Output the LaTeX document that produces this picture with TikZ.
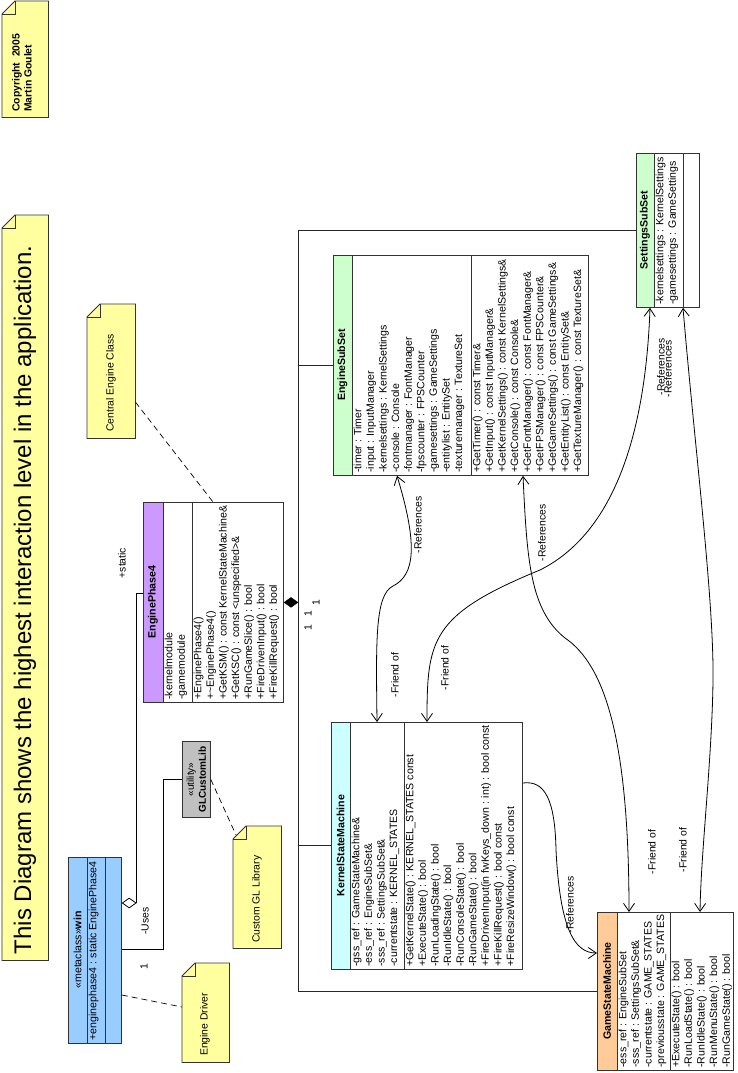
\documentclass[tikz,border=0pt]{standalone}
\usepackage{fontspec}
\setmainfont{Liberation Sans}
\usetikzlibrary{arrows.meta,calc,shapes.geometric}
\definecolor{noteY}{RGB}{255,255,160}
\definecolor{winB}{RGB}{153,204,255}
\definecolor{epP}{RGB}{204,153,255}
\definecolor{ssG}{RGB}{204,255,204}
\definecolor{ksC}{RGB}{204,255,255}
\definecolor{gsO}{RGB}{255,204,153}
\definecolor{glG}{RGB}{192,192,192}
\newcommand{\drawnote}[1]{%
  \filldraw[noteshape] ($(#1.north west)+(0,13)$) -- ($(#1.north west)+(13,0)$) -- (#1.north east) -- (#1.south east) -- (#1.south west) -- cycle;
  \draw[noteshape,fill=none] ($(#1.north west)+(0,13)$) -- ($(#1.north west)+(13,13)$) -- ($(#1.north west)+(13,0)$);}
\begin{document}
\begin{tikzpicture}[x=1pt,y=-1pt,
  >={Straight Barb[length=8pt,width=11pt]},
  cls/.style={draw=black!80, line width=0.8pt, inner sep=0pt, anchor=north west},
  hdr/.style 2 args={path picture={\fill[#1] (path picture bounding box.north west) rectangle ([xshift=#2]path picture bounding box.south west);}},
  sep/.style={draw=black!80, line width=0.8pt},
  txt/.style={rotate=90, anchor=north west, inner sep=0pt, align=left, font=\fontsize{10.6}{12.6}\selectfont},
  ttl/.style={rotate=90, inner sep=0pt, align=center, font=\bfseries\fontsize{10.6}{12.6}\selectfont},
  lbl/.style={rotate=90, inner sep=0pt, font=\fontsize{10.4}{12}\selectfont},
  notebox/.style={inner sep=0pt, anchor=north west},
  noteshape/.style={fill=noteY, draw=black!80, line width=0.8pt},
  conn/.style={line width=0.8pt, draw=black},
  bus/.style={line width=1.1pt, draw=black!85},
  dsh/.style={dash pattern=on 6pt off 4pt, line width=0.7pt}
]
\useasboundingbox (0,0) rectangle (738,1073);
\fill[white] (0,0) rectangle (738,1073);

% ---------- notes ----------
\node[notebox, minimum width=46pt, minimum height=116pt] (copy) at (2,1) {};
\drawnote{copy}
\node[txt, font=\bfseries\fontsize{10.4}{12}\selectfont] (copyt) at (12,112) {Copyright\ \ 2005\\Martin Goulet};

\node[notebox, minimum width=46pt, minimum height=745pt] (title) at (2,215) {};
\drawnote{title}
\node[lbl, font=\fontsize{24}{28}\selectfont] (titlet) at (25,600) {This Diagram shows the highest interaction level in the application.};

\node[notebox, minimum width=48pt, minimum height=134pt] (cen) at (87,304) {};
\drawnote{cen}
\node[lbl, anchor=west, font=\fontsize{10.4}{12}\selectfont] (cent) at (111,432) {Central Engine Class};

\node[notebox, minimum width=48pt, minimum height=122pt] (glnote) at (233,826) {};
\drawnote{glnote}
\node[lbl, anchor=west, font=\fontsize{10.4}{12}\selectfont] (glnotet) at (257,943) {Custom GL Library};

\node[notebox, minimum width=47pt, minimum height=99pt] (drv) at (182,963) {};
\drawnote{drv}
\node[lbl, anchor=west, font=\fontsize{10.4}{12}\selectfont] (drvt) at (205,1056) {Engine Driver};

% ---------- classes ----------
% win
\node[cls, fill=winB, minimum width=53pt, minimum height=186pt] (win) at (68,857) {};
\draw[sep] ($(win.north west)+(19,0)$) -- ($(win.south west)+(19,0)$);
\draw[sep] ($(win.north west)+(37,0)$) -- ($(win.south west)+(37,0)$);
\node[ttl, font=\fontsize{10.6}{12}\selectfont] (wint) at ($(win.north west)+(9.5,93)$) {«metaclass»\textbf{win}};
\node[txt] (wina) at ($(win.south west)+(20.5,-3)$) {+enginephase4 : static EnginePhase4};

% EnginePhase4
\node[cls, fill=white, hdr={epP}{20pt}, minimum width=140pt, minimum height=200pt] (ep4) at (143,502) {};
\draw[sep] ($(ep4.north west)+(20,0)$) -- ($(ep4.south west)+(20,0)$);
\draw[sep] ($(ep4.north west)+(49,0)$) -- ($(ep4.south west)+(49,0)$);
\node[ttl] (ep4t) at ($(ep4.north west)+(10,100)$) {EnginePhase4};
\node[txt] (ep4a) at ($(ep4.south west)+(21.5,-3)$) {-kernelmodule\\-gamemodule};
\node[txt] (ep4m) at ($(ep4.south west)+(50.5,-3)$) {+EnginePhase4()\\+\textasciitilde EnginePhase4()\\+GetKSM() : const KernelStateMachine\&\\+GetKSC() : const <unspecified>\&\\+RunGameSlice() : bool\\+FireDrivenInput() : bool\\+FireKillRequest() : bool};

% EngineSubSet
\node[cls, fill=white, hdr={ssG}{19pt}, minimum width=255pt, minimum height=220pt] (es) at (333,255) {};
\draw[sep] ($(es.north west)+(19,0)$) -- ($(es.south west)+(19,0)$);
\draw[sep] ($(es.north west)+(138,0)$) -- ($(es.south west)+(138,0)$);
\node[ttl] (est) at ($(es.north west)+(9.5,110)$) {EngineSubSet};
\node[txt] (esa) at ($(es.south west)+(20.5,-3)$) {-timer : Timer\\-input : InputManager\\-kernelsettings : KernelSettings\\-console : Console\\-fontmanager : FontManager\\-fpscounter : FPSCounter\\-gamesettings : GameSettings\\-entitylist : EntitySet\\-texturemanager : TextureSet};
\node[txt] (esm) at ($(es.south west)+(139.5,-3)$) {+GetTimer() : const Timer\&\\+GetInput() : const InputManager\&\\+GetKernelSettings() : const KernelSettings\&\\+GetConsole() : const Console\&\\+GetFontManager() : const FontManager\&\\+GetFPSManager() : const FPSCounter\&\\+GetGameSettings() : const GameSettings\&\\+GetEntityList() : const EntitySet\&\\+GetTextureManager() : const TextureSet\&};

% SettingsSubSet
\node[cls, fill=white, hdr={ssG}{18pt}, minimum width=63pt, minimum height=154pt] (sss) at (636,153) {};
\draw[sep] ($(sss.north west)+(18,0)$) -- ($(sss.south west)+(18,0)$);
\draw[sep] ($(sss.north west)+(47,0)$) -- ($(sss.south west)+(47,0)$);
\node[ttl] (ssst) at ($(sss.north west)+(9,77)$) {SettingsSubSet};
\node[txt] (sssa) at ($(sss.south west)+(19.5,-3)$) {-kernelsettings : KernelSettings\\-gamesettings : GameSettings};

% KernelStateMachine
\node[cls, fill=white, hdr={ksC}{19pt}, minimum width=191pt, minimum height=247pt] (ksm) at (331,722) {};
\draw[sep] ($(ksm.north west)+(19,0)$) -- ($(ksm.south west)+(19,0)$);
\draw[sep] ($(ksm.north west)+(73,0)$) -- ($(ksm.south west)+(73,0)$);
\node[ttl] (ksmt) at ($(ksm.north west)+(9.5,123.5)$) {KernelStateMachine};
\node[txt] (ksma) at ($(ksm.south west)+(20.5,-3)$) {-gss\_ref : GameStateMachine\&\\-ess\_ref : EngineSubSet\&\\-sss\_ref : SettingsSubSet\&\\-currentstate : KERNEL\_STATES};
\node[txt] (ksmm) at ($(ksm.south west)+(74.5,-3)$) {+GetKernelState() : KERNEL\_STATES const\\+ExecuteState() : bool\\-RunLoadingState() : bool\\-RunIdleState() : bool\\-RunConsoleState() : bool\\-RunGameState() : bool\\+FireDrivenInput(in fwKeys\_down : int) : bool const\\+FireKillRequest() : bool const\\+FireResizeWindow() : bool const};

% GameStateMachine
\node[cls, fill=white, hdr={gsO}{20pt}, minimum width=136pt, minimum height=158pt] (gsm) at (597,912) {};
\draw[sep] ($(gsm.north west)+(20,0)$) -- ($(gsm.south west)+(20,0)$);
\draw[sep] ($(gsm.north west)+(73,0)$) -- ($(gsm.south west)+(73,0)$);
\node[ttl] (gsmt) at ($(gsm.north west)+(10,79)$) {GameStateMachine};
\node[txt] (gsma) at ($(gsm.south west)+(21.5,-3)$) {-ess\_ref : EngineSubSet\\-sss\_ref : SettingsSubSet\&\\-currentstate : GAME\_STATES\\-previousstate : GAME\_STATES};
\node[txt] (gsmm) at ($(gsm.south west)+(74.5,-3)$) {+ExecuteState() : bool\\-RunLoadState() : bool\\-RunIdleState() : bool\\-RunMenuState() : bool\\-RunGameState() : bool};

% GLCustomLib
\node[cls, fill=glG, minimum width=28pt, minimum height=76pt] (gl) at (182,741) {};
\node[ttl, font=\fontsize{10}{12}\selectfont] (glt) at (gl.center) {«utility»\\\textbf{GLCustomLib}};

% ---------- composition bus ----------
\node[diamond, fill=black, draw=black, inner sep=0pt, minimum width=14pt, minimum height=10pt, anchor=west] (comp) at (ep4.east) {};
\coordinate (bt) at (sss.west -| comp.east);
\coordinate (bb) at (gsm.west -| comp.east);
\draw[bus] (sss.west) -- (bt) -- (bb) -- (gsm.west);
\draw[bus] (es.west) -- (es.west -| comp.east);
\draw[bus] (ksm.west) -- (ksm.west -| comp.east);
\node[lbl] (m1) at (316,603) {1};
\node[lbl] (m2) at (308,614) {1};
\node[lbl] (m3) at (308,628) {1};

% ---------- aggregation win -> EnginePhase4 ----------
\node[diamond, fill=white, draw=black, line width=0.8pt, inner sep=0pt, minimum width=14pt, minimum height=10pt, anchor=west] (agg) at ($(win.north east)+(0,46)$) {};
\draw[conn] (agg.east) |- ($(ep4.north west)+(0,91)$);
\node[lbl] (statl) at (122,563) {+static};

% ---------- uses ----------
\coordinate (winU) at ($(win.north east)+(0,92)$);
\coordinate (uk) at ($(gl.west)+(-19,0)$);
\draw[conn] (winU) -| (uk) -- (gl.west);
\node[lbl] (usesl) at (145,921) {-Uses};
\node[lbl] (onel) at (144,967) {1};

% ---------- note anchors ----------
\draw[dsh] ($(cen.north east)+(0,98)$) -- ($(ep4.north west)+(70,0)$);
\draw[dsh] (gl.east) -- ($(glnote.north west)+(3,9)$);
\draw[dsh] ($(win.north east)+(0,138)$) -- ($(drv.north west)+(0,44)$);

% ---------- associations ----------
\coordinate (esA) at ($(es.south west)+(64,0)$);
\coordinate (esB) at ($(es.south west)+(190,0)$);
\coordinate (ksA) at ($(ksm.north west)+(46,0)$);
\coordinate (ksB) at ($(ksm.north west)+(96,0)$);
\coordinate (ksR) at ($(ksm.north east)+(0,61)$);
\coordinate (ssA) at ($(sss.south west)+(14,0)$);
\coordinate (ssB) at ($(sss.south west)+(47,0)$);
\coordinate (gsA) at ($(gsm.north west)+(32,0)$);
\coordinate (gsB) at ($(gsm.north west)+(103,0)$);
\coordinate (gsL) at ($(gsm.north west)+(0,41)$);

\draw[conn,<->] (esA) .. controls (418,545) and (415,575) .. (393,586) .. controls (375,595) and (376,640) .. (ksA);
\draw[conn,<->] (esB) .. controls (527,560) and (530,610) .. (565,638) .. controls (605,665) and (629,740) .. (gsA);
\draw[conn,<->] (ssA) .. controls (646,420) and (620,530) .. (540,570) .. controls (430,615) and (427,640) .. (ksB);
\draw[conn,<->] (ssB) .. controls (695,450) and (714,600) .. (713,680) .. controls (712,760) and (701,850) .. (gsB);
\draw[conn,->] (ksR) .. controls (545,780) and (555,800) .. (556,850) .. controls (560,930) and (575,953) .. (gsL);

\node[lbl] (r1) at (418,525) {-References};
\node[lbl] (f1) at (395,675) {-Friend of};
\node[lbl] (r2) at (542,533) {-References};
\node[lbl] (f2) at (652,852) {-Friend of};
\node[lbl] (f3) at (445,668) {-Friend of};
\node[lbl] (r3) at (661,367) {-References};
\node[lbl] (r4) at (668,369) {-References};
\node[lbl] (f4) at (683,850) {-Friend of};
\node[lbl] (r5) at (570,905) {-References};
\end{tikzpicture}
\end{document}
